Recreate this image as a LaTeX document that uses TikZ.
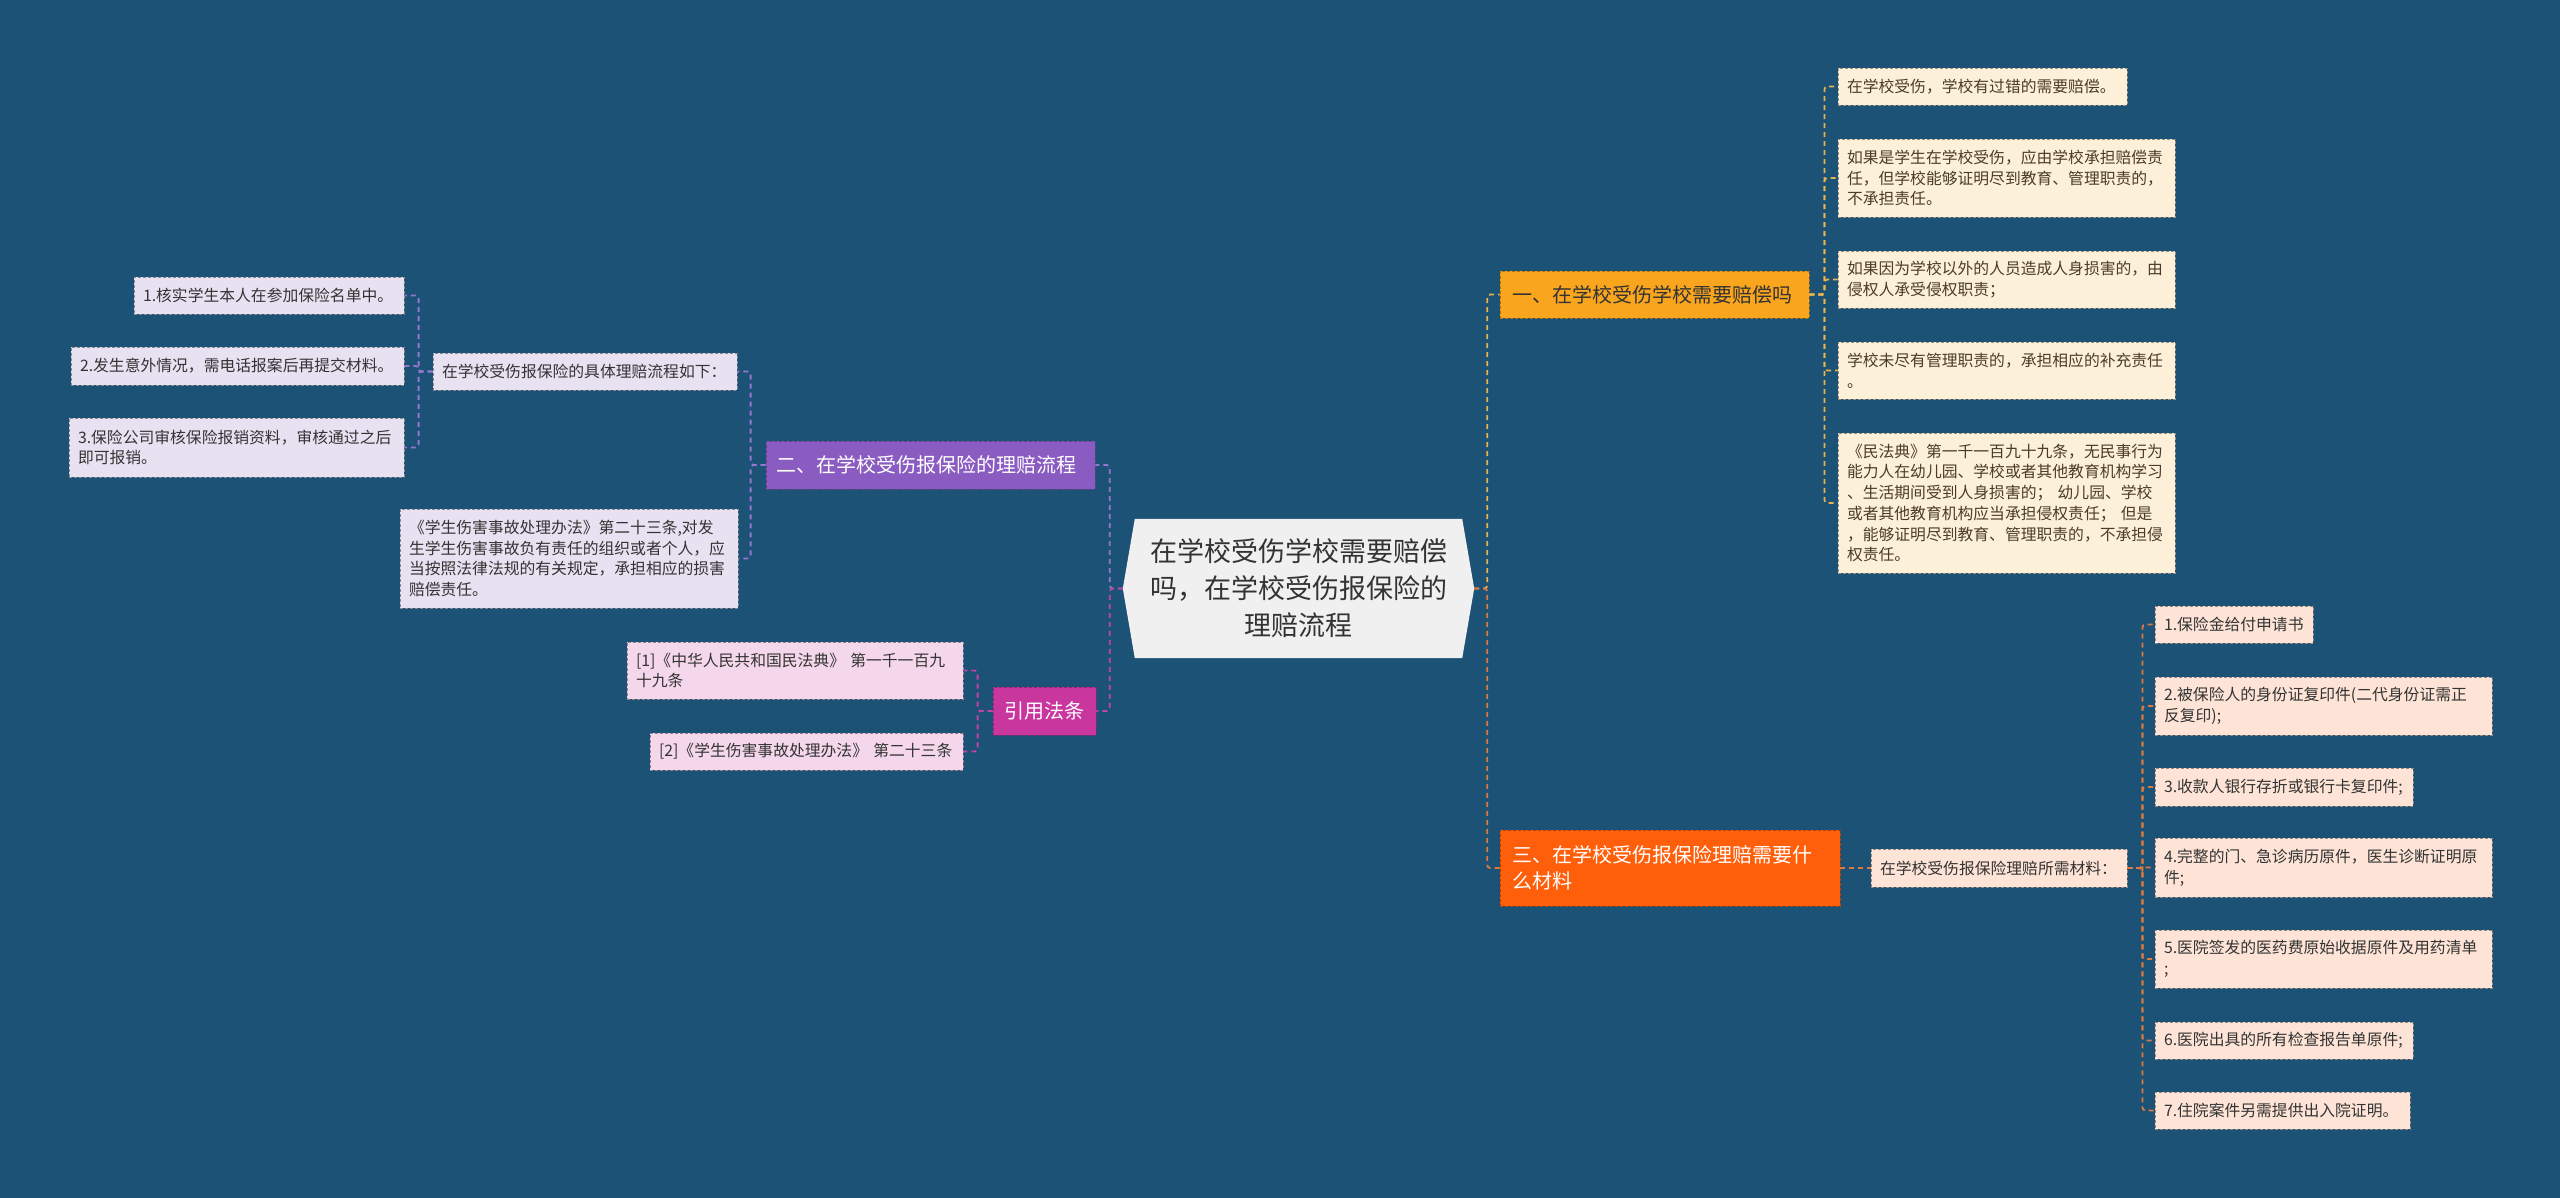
\documentclass[tikz,border=0pt]{standalone}
\usepackage{fontspec}
\setmainfont{Noto Sans CJK SC}
\usetikzlibrary{backgrounds}
\definecolor{bgc}{HTML}{1B5276}
\definecolor{cfill}{HTML}{F0F0F0}
\definecolor{ctext}{HTML}{333333}
\definecolor{bAfill}{HTML}{F9A51E}
\definecolor{bBfill}{HTML}{8A5BC1}
\definecolor{bCfill}{HTML}{C8369E}
\definecolor{bDfill}{HTML}{FF5F0A}
\definecolor{lAfill}{HTML}{FDF0D8}
\definecolor{lBfill}{HTML}{E8E1F1}
\definecolor{lCfill}{HTML}{F5D7EB}
\definecolor{lDfill}{HTML}{FDE4D6}
\definecolor{lAtext}{HTML}{4A3C28}
\definecolor{ltext}{HTML}{333333}
\definecolor{cnA}{HTML}{E7B34B}
\definecolor{cnB}{HTML}{9577CF}
\definecolor{cnC}{HTML}{C4439F}
\definecolor{cnD}{HTML}{DF7A3E}
\tikzset{
  box/.style={rectangle, inner ysep=0pt, align=left, dash pattern=on 3pt off 2pt, line width=0.8pt},
  branch/.style={box, inner xsep=12pt, font=\fontsize{20}{26}\selectfont},
  leaf/.style={box, inner xsep=9pt, text=ltext, font=\fontsize{15.8}{20.7}\selectfont},
  brA/.style={branch, fill=bAfill, draw=bAfill!70!black, text=ctext},
  brB/.style={branch, fill=bBfill, draw=bBfill!70!black, text=white, inner xsep=10pt},
  brC/.style={branch, fill=bCfill, draw=bCfill!70!black, text=white, align=center},
  brD/.style={branch, fill=bDfill, draw=bDfill!70!black, text=white},
  lfA/.style={leaf, fill=lAfill, draw=lAfill!60!black, text=lAtext},
  lfB/.style={leaf, fill=lBfill, draw=lBfill!60!black},
  lfC/.style={leaf, fill=lCfill, draw=lCfill!60!black},
  lfD/.style={leaf, fill=lDfill, draw=lDfill!60!black},
  conn/.style={line width=1.8pt, dash pattern=on 5pt off 4pt, rounded corners=3pt},
  centernode/.style={rectangle, inner sep=0pt, align=center, text=ctext, font=\fontsize{27}{37}\selectfont}
}
\begin{document}
\begin{tikzpicture}[x=1pt,y=-1pt]
\useasboundingbox (0,0) rectangle (2560,1198);
% center
\node[centernode, minimum width=351pt, minimum height=139pt, text width=330pt] (c) at (1298.5,588.5)
  {在学校受伤学校需要赔偿\\吗，在学校受伤报保险的\\理赔流程};
% branch 1
\node[brA, text width=285pt, minimum height=47pt] (b1) at (1654.5,294.5) {一、在学校受伤学校需要赔偿吗};
\node[lfA, text width=271pt, minimum height=37pt] (a1) at (1982.5,86.5) {在学校受伤，学校有过错的需要赔偿。};
\node[lfA, text width=319pt, minimum height=78pt] (a2) at (2006.5,178) {如果是学生在学校受伤，应由学校承担赔偿责\\任，但学校能够证明尽到教育、管理职责的，\\不承担责任。};
\node[lfA, text width=319pt, minimum height=57pt] (a3) at (2006.5,279.5) {如果因为学校以外的人员造成人身损害的，由\\侵权人承受侵权职责；};
\node[lfA, text width=319pt, minimum height=57pt] (a4) at (2006.5,370.5) {学校未尽有管理职责的，承担相应的补充责任\\。};
\node[lfA, text width=319pt, minimum height=140pt] (a5) at (2006.5,503) {《民法典》第一千一百九十九条，无民事行为\\能力人在幼儿园、学校或者其他教育机构学习\\、生活期间受到人身损害的； 幼儿园、学校\\或者其他教育机构应当承担侵权责任； 但是\\，能够证明尽到教育、管理职责的，不承担侵\\权责任。};
% branch 2
\node[brB, text width=309pt, minimum height=48pt] (b2) at (930.5,465) {二、在学校受伤报保险的理赔流程};
\node[lfB, text width=286pt, minimum height=37pt] (s2) at (585,371.5) {在学校受伤报保险的具体理赔流程如下：};
\node[lfB, text width=252pt, minimum height=37pt] (l1) at (269,295.5) {1.核实学生本人在参加保险名单中。};
\node[lfB, text width=315pt, minimum height=38pt] (l2) at (237.5,366) {2.发生意外情况，需电话报案后再提交材料。};
\node[lfB, text width=317pt, minimum height=59pt] (l3) at (236.5,447.5) {3.保险公司审核保险报销资料，审核通过之后\\即可报销。};
\node[lfB, text width=320pt, minimum height=99pt] (l4) at (569,558.5) {《学生伤害事故处理办法》第二十三条,对发\\生学生伤害事故负有责任的组织或者个人，应\\当按照法律法规的有关规定，承担相应的损害\\赔偿责任。};
% references
\node[brC, text width=85pt, inner xsep=9pt, minimum height=48pt] (yf) at (1044.5,711) {引用法条};
\node[lfC, text width=318pt, minimum height=57pt] (r1) at (795,670.5) {[1]《中华人民共和国民法典》 第一千一百九\\十九条};
\node[lfC, text width=295pt, minimum height=37pt] (r2) at (806.5,751.5) {[2]《学生伤害事故处理办法》 第二十三条};
% branch 3
\node[brD, text width=316pt, minimum height=76pt] (b3) at (1670,868) {三、在学校受伤报保险理赔需要什\\么材料};
\node[lfD, text width=238pt, minimum height=38pt] (t0) at (1999,868) {在学校受伤报保险理赔所需材料：};
\node[lfD, text width=140pt, minimum height=37pt] (i1) at (2234,624.5) {1.保险金给付申请书};
\node[lfD, text width=319pt, minimum height=58pt] (i2) at (2323.5,706) {2.被保险人的身份证复印件(二代身份证需正\\反复印);};
\node[lfD, text width=240pt, minimum height=38pt] (i3) at (2284,787) {3.收款人银行存折或银行卡复印件;};
\node[lfD, text width=319pt, minimum height=59pt] (i4) at (2323.5,867.5) {4.完整的门、急诊病历原件，医生诊断证明原\\件;};
\node[lfD, text width=319pt, minimum height=58pt] (i5) at (2323.5,959) {5.医院签发的医药费原始收据原件及用药清单\\;};
\node[lfD, text width=240pt, minimum height=37pt] (i6) at (2284,1040.5) {6.医院出具的所有检查报告单原件;};
\node[lfD, text width=237pt, minimum height=37pt] (i7) at (2282.5,1110.5) {7.住院案件另需提供出入院证明。};
% background and center shape
\begin{scope}[on background layer]
  \fill[bgc] (0,0) rectangle (2560,1198);
  \fill[cfill] (c.west) -- ([xshift=12pt]c.north west) -- ([xshift=-12pt]c.north east) -- (c.east)
    -- ([xshift=-12pt]c.south east) -- ([xshift=12pt]c.south west) -- cycle;
\end{scope}
% connectors
\draw[conn, draw=cnA] (c.east) -- ++(13,0) |- (b1.west);
\draw[conn, draw=cnD] (c.east) -- ++(13,0) |- (b3.west);
\draw[conn, draw=cnB] (c.west) -- ++(-13,0) |- (b2.east);
\draw[conn, draw=cnC] (c.west) -- ++(-13,0) |- (yf.east);
\foreach \n in {a1,a2,a3,a4,a5} \draw[conn, draw=cnA] (b1.east) -- ++(15,0) |- (\n.west);
\foreach \n in {s2,l4} \draw[conn, draw=cnB] (b2.west) -- ++(-15,0) |- (\n.east);
\foreach \n in {l1,l2,l3} \draw[conn, draw=cnB] (s2.west) -- ++(-14,0) |- (\n.east);
\foreach \n in {r1,r2} \draw[conn, draw=cnC] (yf.west) -- ++(-15,0) |- (\n.east);
\draw[conn, draw=cnD] (b3.east) -- (t0.west);
\foreach \n in {i1,i2,i3,i4,i5,i6,i7} \draw[conn, draw=cnD] (t0.east) -- ++(15,0) |- (\n.west);
\end{tikzpicture}
\end{document}
